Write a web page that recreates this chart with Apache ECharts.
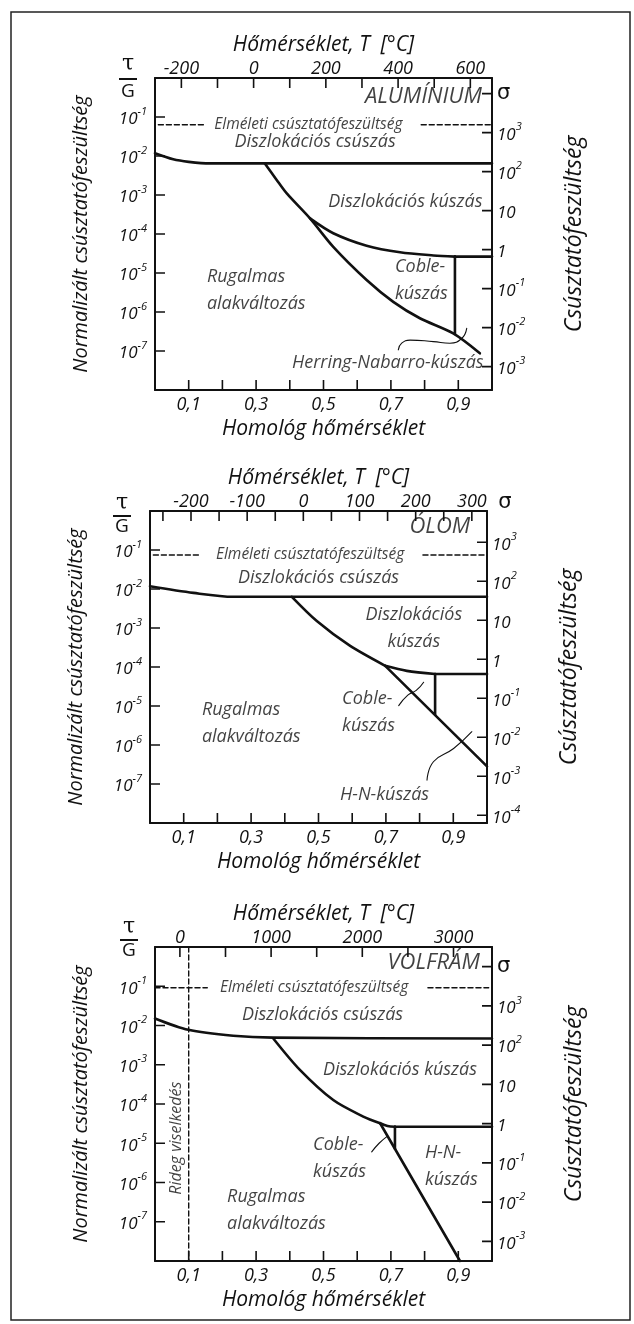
<!DOCTYPE html>
<html><head><meta charset="utf-8">
<script src="https://cdn.jsdelivr.net/npm/echarts@6.0.0/dist/echarts.min.js"></script>
<style>html,body{margin:0;padding:0;background:#fff}#c{width:634px;height:1324px}</style>
</head><body><div id="c"></div>
<script>
// ================= DATA =================
// bottom axis: homologous temperature T/Tm
const homTicks = [0.1, 0.2, 0.3, 0.4, 0.5, 0.6, 0.7, 0.8, 0.9];
const homLabels = [0.1, 0.3, 0.5, 0.7, 0.9];
// left axis: log10(tau/G)
const logTauTicks = [-7, -6, -5, -4, -3, -2, -1];
// top axis: temperature in Celsius
const alCelsiusTicks = [-200, -100, 0, 100, 200, 300, 400, 500, 600];
const alCelsiusLabels = [-200, 0, 200, 400, 600];
const pbCelsiusTicks = [-250, -200, -150, -100, -50, 0, 50, 100, 150, 200, 250, 300];
const pbCelsiusLabels = [-200, -100, 0, 100, 200, 300];
const wCelsiusTicks = [0, 500, 1000, 1500, 2000, 2500, 3000];
const wCelsiusLabels = [0, 1000, 2000, 3000];
const meltingPointsC = [660, 327, 3422];        // Al, Pb, W
const absoluteZeroC = -273;
// right axis: log10(sigma / MPa); log10(G / MPa) per metal
const logShearModulus = [4.4, 3.8, 4.5];        // Al, Pb, W
const alSigmaTicks = [-3, -2, -1, 0, 1, 2, 3, 4];
const pbSigmaTicks = [-4, -3, -2, -1, 0, 1, 2, 3];
const wSigmaTicks = [-3, -2, -1, 0, 1, 2, 3, 4];
// theoretical shear strength, log10(tau/G)
const theoreticalLogTau = [-1.2, -1.13, -1.04];

// ---- Aluminium boundaries [T/Tm, log10(tau/G)]
const alGlide = [[0, -1.93], [0.054, -2.085], [0.1, -2.15], [0.163, -2.19], [0.3, -2.19], [1, -2.19]];
const alElastic = [[0.326, -2.19], [0.36, -2.6], [0.391, -2.96], [0.46, -3.6], [0.529, -4.33], [0.628, -5.18], [0.707, -5.74], [0.786, -6.16], [0.885, -6.55], [0.964, -7.06]];
const alDislCreep = [[0.46, -3.6], [0.529, -3.98], [0.628, -4.3], [0.727, -4.47], [0.826, -4.55], [0.89, -4.58]];
const alDislCreepFlat = [[0.89, -4.58], [1, -4.58]];
const alCobleHN = [[0.89, -4.58], [0.89, -6.56]];
const alHNLeader = [[0.722, -6.97], [0.732, -6.8], [0.757, -6.72], [0.826, -6.76], [0.875, -6.8], [0.91, -6.68], [0.925, -6.42]];

// ---- Lead boundaries
const pbGlide = [[0, -1.93], [0.129, -2.1], [0.247, -2.2], [0.4, -2.2], [1, -2.2]];
const pbElasticCurve = [[0.421, -2.2], [0.495, -2.82], [0.594, -3.46], [0.698, -3.97]];
const pbElasticLine = [[0.698, -3.97], [1, -6.55]];
const pbDislCreep = [[0.698, -3.97], [0.762, -4.1], [0.846, -4.18]];
const pbDislCreepFlat = [[0.846, -4.18], [1, -4.18]];
const pbCobleHN = [[0.846, -4.18], [0.846, -5.22]];
const pbCobleLeader = [[0.738, -4.99], [0.765, -4.72], [0.79, -4.6], [0.812, -4.39]];
const pbHNLeader = [[0.822, -6.9], [0.841, -6.43], [0.901, -6.09], [0.955, -5.66]];

// ---- Tungsten boundaries
const wGlide = [[0, -1.82], [0.099, -2.11], [0.232, -2.26], [0.351, -2.31], [1, -2.33]];
const wElasticCurve = [[0.351, -2.33], [0.43, -3.13], [0.529, -3.9], [0.618, -4.32], [0.668, -4.49]];
const wElasticLine = [[0.668, -4.49], [0.905, -8]];
const wDislCreep = [[0.668, -4.49], [0.69, -4.56], [0.712, -4.58]];
const wDislCreepFlat = [[0.712, -4.58], [1, -4.58]];
const wCobleHN = [[0.712, -4.58], [0.712, -5.14]];
const wCobleLeader = [[0.643, -5.22], [0.665, -5.0], [0.688, -4.83]];
const wBrittleLimit = [[0.1, 0], [0.1, -8]];

// ---- texts
const materialNames = ['ALUMÍNIUM', 'ÓLOM', 'VOLFRÁM'];
const topAxisTitle = 'Hőmérséklet, T  [°C]';
const bottomAxisTitle = 'Homológ hőmérséklet';
const leftAxisTitle = 'Normalizált csúsztatófeszültség';
const rightAxisTitle = 'Csúsztatófeszültség';
const theoreticalText = 'Elméleti csúsztatófeszültség';

// ================= LAYOUT / STYLE =================
const FONT = '"Open Sans", "DejaVu Sans", sans-serif';
const INK = '#111';
const TICK_LEN = 10;

const grids = [
  {left: 155, top: 78, width: 337, height: 312},
  {left: 150, top: 511, width: 337, height: 312},
  {left: 155, top: 947, width: 337, height: 314}
];
const celsiusTicks = [alCelsiusTicks, pbCelsiusTicks, wCelsiusTicks];
const celsiusLabels = [alCelsiusLabels, pbCelsiusLabels, wCelsiusLabels];
const sigmaTicks = [alSigmaTicks, pbSigmaTicks, wSigmaTicks];

const annotations = [
  [
    [0.970, -0.49, 'right', materialNames[0], 'mat'],
    [0.475, -1.64, 'center', 'Diszlokációs csúszás', 'reg'],
    [0.743, -3.18, 'center', 'Diszlokációs kúszás', 'reg'],
    [0.712, -5.2, 'left', 'Coble-\nkúszás', 'reg'],
    [0.154, -5.44, 'left', 'Rugalmas\nalakváltozás', 'reg'],
    [0.975, -7.31, 'right', 'Herring-Nabarro-kúszás', 'reg']
  ],
  [
    [0.950, -0.41, 'right', materialNames[1], 'mat'],
    [0.50, -1.71, 'center', 'Diszlokációs csúszás', 'reg'],
    [0.783, -3.02, 'center', 'Diszlokációs\nkúszás', 'reg'],
    [0.570, -5.16, 'left', 'Coble-\nkúszás', 'reg'],
    [0.154, -5.44, 'left', 'Rugalmas\nalakváltozás', 'reg'],
    [0.564, -7.29, 'left', 'H-N-kúszás', 'reg']
  ],
  [
    [0.964, -0.41, 'right', materialNames[2], 'mat'],
    [0.497, -1.73, 'center', 'Diszlokációs csúszás', 'reg'],
    [0.727, -3.13, 'center', 'Diszlokációs kúszás', 'reg'],
    [0.469, -5.39, 'left', 'Coble-\nkúszás', 'reg'],
    [0.801, -5.59, 'left', 'H-N-\nkúszás', 'reg'],
    [0.214, -6.70, 'left', 'Rugalmas\nalakváltozás', 'reg'],
    [0.064, -4.87, 'center', 'Rideg viselkedés', 'rot']
  ]
];
const theoTextX = [0.455, 0.475, 0.472];
const theoSegments = [
  [[0.01, 0.15], [0.79, 1.0]],
  [[0.01, 0.15], [0.81, 0.995]],
  [[0.0, 0.155], [0.81, 0.99]]
];

const axisLineStyle = () => ({show: true, onZero: false, lineStyle: {color: INK, width: 2}});
const noTick = () => ({show: false});
const baseLabel = () => ({color: INK, fontFamily: FONT, fontStyle: 'italic', fontSize: 18});
const makeRich = () => ({
  b: {fontSize: 17, lineHeight: 22, fontFamily: FONT, fontStyle: 'italic', color: INK, verticalAlign: 'bottom'},
  s: {fontSize: 11, lineHeight: 11, fontFamily: FONT, fontStyle: 'italic', color: INK, verticalAlign: 'top'},
  g: {fontSize: 21, fontFamily: '"DejaVu Sans", sans-serif', color: INK}
});
const nameStyle = (size) => ({color: INK, fontFamily: FONT, fontStyle: 'italic', fontSize: size});

const xAxes = [], yAxes = [], series = [];
function line(p, data, opt) {
  opt = opt || {};
  series.push({
    type: 'line', xAxisIndex: 2 * p, yAxisIndex: 2 * p, data: data,
    showSymbol: false, symbol: 'none', silent: true, animation: false, clip: false,
    smooth: opt.smooth == null ? 0 : opt.smooth,
    lineStyle: {color: INK, width: opt.width || 2.6, type: opt.type || 'solid', cap: opt.cap || 'round', join: 'round'},
    z: opt.z || 3
  });
}

grids.forEach((g, p) => {
  const tm = meltingPointsC[p];
  const lg = logShearModulus[p];
  xAxes.push({
    gridIndex: p, type: 'value', position: 'bottom', min: 0, max: 1,
    axisLine: axisLineStyle(), splitLine: {show: false}, axisTick: noTick(),
    axisLabel: Object.assign(baseLabel(), {customValues: homLabels.slice(), margin: 6,
      formatter: v => v.toFixed(1).replace('.', ',')}),
    name: bottomAxisTitle, nameLocation: 'middle', nameGap: 29, nameTextStyle: nameStyle(21)
  });
  xAxes.push({
    gridIndex: p, type: 'value', position: 'top', min: absoluteZeroC, max: tm,
    axisLine: axisLineStyle(), splitLine: {show: false}, axisTick: noTick(),
    axisLabel: Object.assign(baseLabel(), {customValues: celsiusLabels[p].slice(), margin: 0,
      formatter: v => String(v)}),
    name: topAxisTitle, nameLocation: 'middle', nameGap: 22, nameTextStyle: nameStyle(21)
  });
  yAxes.push({
    gridIndex: p, type: 'value', position: 'left', min: -8, max: 0,
    axisLine: axisLineStyle(), splitLine: {show: false}, axisTick: noTick(),
    axisLabel: {customValues: logTauTicks.slice(), margin: 8, rich: makeRich(),
      formatter: v => '{b|10}{s|' + Math.round(v) + '}'},
    name: leftAxisTitle, nameLocation: 'middle', nameGap: 64, nameTextStyle: nameStyle(20)
  });
  const sig = sigmaTicks[p];
  yAxes.push({
    gridIndex: p, type: 'value', position: 'right', min: -8 + lg, max: lg,
    axisLine: axisLineStyle(), splitLine: {show: false}, axisTick: noTick(),
    axisLabel: {customValues: sig.slice(), margin: 5, rich: makeRich(),
      formatter: v => {
        const e = Math.round(v);
        if (e === 4) return '{g|σ}';
        if (e === 0) return '{b|1}';
        if (e === 1) return '{b|10}';
        return '{b|10}{s|' + e + '}';
      }},
    name: rightAxisTitle, nameLocation: 'middle', nameGap: 71, nameTextStyle: nameStyle(23)
  });

  // inward tick marks at the tick values, drawn through the panel's own axes
  const dx = TICK_LEN / g.width, dy = TICK_LEN * 8 / g.height;
  const tk = {width: 1.6, cap: 'butt', z: 6};
  homTicks.forEach(v => line(p, [[v, -8], [v, -8 + dy]], tk));
  celsiusTicks[p].forEach(t => {
    const h = (t - absoluteZeroC) / (tm - absoluteZeroC);
    line(p, [[h, 0], [h, -dy]], tk);
  });
  logTauTicks.forEach(e => line(p, [[0, e], [dx, e]], tk));
  sig.forEach(e => line(p, [[1, e - lg], [1 - dx, e - lg]], tk));
});

// ---- boundaries
line(0, alGlide, {smooth: 0.3});
line(0, alElastic, {smooth: 0.3});
line(0, alDislCreep, {smooth: 0.3});
line(0, alDislCreepFlat);
line(0, alCobleHN);
line(0, alHNLeader, {smooth: 0.5, width: 1.1});

line(1, pbGlide, {smooth: 0.3});
line(1, pbElasticCurve, {smooth: 0.3});
line(1, pbElasticLine);
line(1, pbDislCreep, {smooth: 0.3});
line(1, pbDislCreepFlat);
line(1, pbCobleHN);
line(1, pbCobleLeader, {smooth: 0.5, width: 1.1});
line(1, pbHNLeader, {smooth: 0.5, width: 1.1});

line(2, wGlide, {smooth: 0.3});
line(2, wElasticCurve, {smooth: 0.3});
line(2, wElasticLine);
line(2, wDislCreep, {smooth: 0.3});
line(2, wDislCreepFlat);
line(2, wCobleHN);
line(2, wCobleLeader, {smooth: 0.5, width: 1.1});
line(2, wBrittleLimit, {width: 1.4, type: [5, 3]});

theoSegments.forEach((segs, p) => {
  segs.forEach(s => line(p, [[s[0], theoreticalLogTau[p]], [s[1], theoreticalLogTau[p]]], {width: 1.5, type: [5, 3]}));
});

const labelKinds = {
  reg: {fontSize: 18, lineHeight: 27},
  mat: {fontSize: 22, lineHeight: 24},
  rot: {fontSize: 16, lineHeight: 18, rotate: 90},
  theo: {fontSize: 15.5, lineHeight: 18}
};
annotations.forEach((list, p) => {
  const items = list.map(a => ({
    value: [a[0], a[1]],
    label: Object.assign({show: true, position: 'inside', formatter: a[3], align: a[2], verticalAlign: 'middle',
      color: INK, fontFamily: FONT, fontStyle: 'italic'}, labelKinds[a[4]])
  }));
  items.push({value: [theoTextX[p], theoreticalLogTau[p]],
    label: Object.assign({show: true, position: 'inside', formatter: theoreticalText, align: 'center',
      verticalAlign: 'middle', color: INK, fontFamily: FONT, fontStyle: 'italic'}, labelKinds.theo)});
  series.push({type: 'scatter', xAxisIndex: 2 * p, yAxisIndex: 2 * p, symbolSize: 0, silent: true,
    animation: false, data: items, z: 5});
});

const tauG = [[128, 64, 79, 92], [122, 503, 516, 527], [129, 927, 940, 951]];
const graphic = [{type: 'rect', shape: {x: 11, y: 12, width: 619, height: 1308},
  style: {fill: null, stroke: '#222', lineWidth: 1.5}, silent: true}];
tauG.forEach(t => {
  graphic.push({type: 'text', x: t[0], y: t[1], style: {text: 'τ', font: '22px "DejaVu Serif", serif', fill: INK, textAlign: 'center', textVerticalAlign: 'middle'}});
  graphic.push({type: 'line', shape: {x1: t[0] - 9, y1: t[2], x2: t[0] + 9, y2: t[2]}, style: {stroke: INK, lineWidth: 2}});
  graphic.push({type: 'text', x: t[0], y: t[3], style: {text: 'G', font: '19px "Open Sans", sans-serif', fill: INK, textAlign: 'center', textVerticalAlign: 'middle'}});
});
graphic.push({type: 'text', x: 505, y: 503, style: {text: 'σ', font: '21px "DejaVu Sans", sans-serif', fill: INK, textAlign: 'center', textVerticalAlign: 'middle'}});

const chart = echarts.init(document.getElementById('c'), null, {renderer: 'canvas'});
chart.setOption({
  animation: false,
  backgroundColor: '#fff',
  grid: grids,
  xAxis: xAxes,
  yAxis: yAxes,
  series: series,
  graphic: graphic
});
</script></body></html>
